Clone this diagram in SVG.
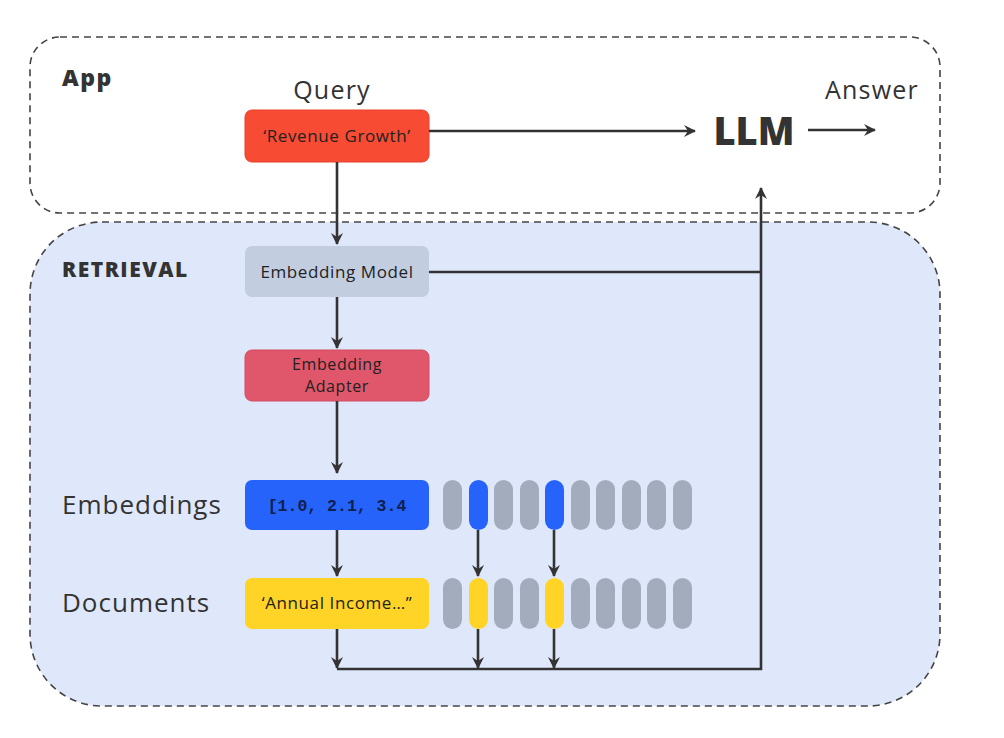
<svg xmlns="http://www.w3.org/2000/svg" width="1004" height="738" viewBox="0 0 1004 738">
<defs>
<marker id="ah" viewBox="0 0 12 12" refX="11" refY="6" markerWidth="12" markerHeight="12" markerUnits="userSpaceOnUse" orient="auto">
<path d="M0,0 L12,6 L0,12 L4,6 Z" fill="#333"/>
</marker>
<style>
.grp{stroke:#444;stroke-width:1.6;stroke-dasharray:7 5}
.t{font-family:"Open Sans","Liberation Sans",sans-serif;fill:#222}
.bold{font-weight:800;fill:#333}
.lbl{font-size:25px;letter-spacing:1.2px;fill:#333}
.row{font-size:26px;letter-spacing:1px;fill:#333}
.bx{font-size:17px;letter-spacing:0.6px}
.c{stroke:#333;stroke-width:2.6;fill:none}
.pill{fill:#a3acbd}
</style>
</defs>
<rect width="1004" height="738" fill="#ffffff"/>
<g id="app">
<rect class="grp" x="30" y="37" width="910" height="176" rx="30" fill="#ffffff"/>
<text class="t bold" x="62" y="86" font-size="23" letter-spacing="1.5">App</text>
</g>
<g id="retrieval">
<rect class="grp" x="30" y="222" width="910" height="484" rx="72" fill="#dfe8fb"/>
<text class="t bold" x="62" y="277" font-size="21" letter-spacing="1.5">RETRIEVAL</text>
</g>
<g id="query">
<text class="t lbl" x="332" y="99" text-anchor="middle">Query</text>
<rect x="245" y="110" width="184" height="52" rx="7" fill="#f84b33" stroke="#e8402a"/>
<text class="t bx" x="337" y="142" text-anchor="middle" fill="#3a0e08">‘Revenue Growth’</text>
</g>
<g id="llm">
<text class="t bold" x="754" y="145" font-size="38" text-anchor="middle">LLM</text>
</g>
<g id="answer">
<text class="t lbl" x="872" y="99" text-anchor="middle">Answer</text>
</g>
<g id="embedding-model">
<rect x="245" y="246" width="184" height="51" rx="7" fill="#c3cde0"/>
<text class="t bx" x="337" y="278" text-anchor="middle">Embedding Model</text>
</g>
<g id="embedding-adapter">
<rect x="245" y="350" width="184" height="51" rx="7" fill="#e0566a" stroke="#d44a5e"/>
<text class="t" x="337" y="370" font-size="16" letter-spacing="0.6" text-anchor="middle" fill="#3a0a12">Embedding</text>
<text class="t" x="337" y="392" font-size="16" letter-spacing="0.6" text-anchor="middle" fill="#3a0a12">Adapter</text>
</g>
<g id="embeddings">
<text class="t row" x="62" y="514">Embeddings</text>
<rect x="245" y="480" width="184" height="50" rx="7" fill="#2563fa"/>
<text x="337" y="511" font-size="16.5" text-anchor="middle" font-family="'Liberation Mono','DejaVu Sans Mono',monospace" font-weight="700" fill="#10204a">[1.0, 2.1, 3.4</text>
<g>
<rect class="pill" x="443" y="480" width="19" height="50" rx="9.5"/>
<rect x="469" y="480" width="19" height="50" rx="9.5" fill="#2563fa"/>
<rect class="pill" x="494" y="480" width="19" height="50" rx="9.5"/>
<rect class="pill" x="520" y="480" width="19" height="50" rx="9.5"/>
<rect x="545" y="480" width="19" height="50" rx="9.5" fill="#2563fa"/>
<rect class="pill" x="571" y="480" width="19" height="50" rx="9.5"/>
<rect class="pill" x="596" y="480" width="19" height="50" rx="9.5"/>
<rect class="pill" x="622" y="480" width="19" height="50" rx="9.5"/>
<rect class="pill" x="647" y="480" width="19" height="50" rx="9.5"/>
<rect class="pill" x="673" y="480" width="19" height="50" rx="9.5"/>
</g>
</g>
<g id="documents">
<text class="t row" x="62" y="612">Documents</text>
<rect x="245" y="578" width="184" height="51" rx="7" fill="#ffd426"/>
<text class="t bx" x="337" y="609" text-anchor="middle">‘Annual Income…”</text>
<g>
<rect class="pill" x="443" y="578" width="19" height="51" rx="9.5"/>
<rect x="469" y="578" width="19" height="51" rx="9.5" fill="#ffd426"/>
<rect class="pill" x="494" y="578" width="19" height="51" rx="9.5"/>
<rect class="pill" x="520" y="578" width="19" height="51" rx="9.5"/>
<rect x="545" y="578" width="19" height="51" rx="9.5" fill="#ffd426"/>
<rect class="pill" x="571" y="578" width="19" height="51" rx="9.5"/>
<rect class="pill" x="596" y="578" width="19" height="51" rx="9.5"/>
<rect class="pill" x="622" y="578" width="19" height="51" rx="9.5"/>
<rect class="pill" x="647" y="578" width="19" height="51" rx="9.5"/>
<rect class="pill" x="673" y="578" width="19" height="51" rx="9.5"/>
</g>
</g>
<g id="connectors">
<line class="c" x1="429" y1="131" x2="695" y2="131" marker-end="url(#ah)"/>
<line class="c" x1="808" y1="130" x2="875" y2="130" marker-end="url(#ah)"/>
<line class="c" x1="337" y1="162" x2="337" y2="244" marker-end="url(#ah)"/>
<line class="c" x1="337" y1="297" x2="337" y2="348" marker-end="url(#ah)"/>
<line class="c" x1="337" y1="401" x2="337" y2="473" marker-end="url(#ah)"/>
<line class="c" x1="337" y1="530" x2="337" y2="576" marker-end="url(#ah)"/>
<line class="c" x1="478" y1="530" x2="478" y2="576" marker-end="url(#ah)"/>
<line class="c" x1="554" y1="530" x2="554" y2="576" marker-end="url(#ah)"/>
<line class="c" x1="337" y1="629" x2="337" y2="668" marker-end="url(#ah)"/>
<line class="c" x1="478" y1="629" x2="478" y2="668" marker-end="url(#ah)"/>
<line class="c" x1="554" y1="629" x2="554" y2="668" marker-end="url(#ah)"/>
<polyline class="c" points="337,669 761,669 761,188" marker-end="url(#ah)"/>
<line class="c" x1="429" y1="272" x2="761" y2="272"/>
</g>
</svg>
